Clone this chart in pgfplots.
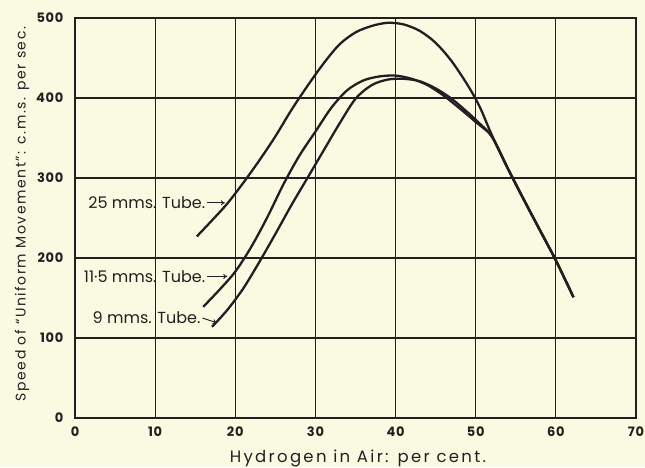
\documentclass[border=0pt]{standalone}
\usepackage{fontspec}
\setmainfont{Poppins}
\newfontfamily\spaced[LetterSpace=14]{Poppins}
\newfontfamily\yspaced[LetterSpace=11]{Poppins}
\newfontfamily\tickfont[LetterSpace=6]{Poppins}
\usepackage{pgfplots}
\pgfplotsset{compat=1.18}
\usetikzlibrary{arrows.meta}
\definecolor{paper}{RGB}{250,250,226}
\definecolor{ink}{RGB}{36,30,34}

\begin{document}
\begin{tikzpicture}
\fill[paper] (-75pt,-49pt) rectangle (570pt,418pt);
\begin{axis}[
  at={(0,0)}, anchor=south west,
  width=561pt, height=400pt, scale only axis,
  xmin=0, xmax=70, ymin=0, ymax=500,
  xtick={0,10,...,70}, ytick={0,100,...,500},
  major tick length=0pt,
  grid=major,
  grid style={ink, line width=1.1pt},
  axis line style={ink, line width=1.8pt},
  /pgf/number format/assume math mode=true,
  ticklabel style={font=\tickfont\fontsize{13}{13}\selectfont\bfseries, text=ink},
  xticklabel style={anchor=center, yshift=-14pt},
  yticklabel style={xshift=-8pt},
  clip=false,
]
% 25 mm tube
\addplot[ink, line width=2.3pt, smooth] coordinates {
  (15.2,227) (17,246) (19,268) (21,294) (23,322) (25,352) (27,385)
  (29,415) (31,443) (33,467) (35,482) (37,490) (39,494) (41,492)
  (43,484) (45,469) (47,446) (49,416) (50.5,389) (52,354) (54,312)
  (56,273) (58,235) (60,197) (62.2,151)
};
% 11.5 mm tube
\addplot[ink, line width=2.3pt, smooth] coordinates {
  (16,139) (18,160) (20,183) (22,214) (24,251) (26,292) (28,328)
  (30,358) (32,388) (34,410) (36,422) (38,427) (40,428) (42,424)
  (44,416) (46,403) (48,387) (50,370) (52,352) (54,312)
  (56,273) (58,235) (60,197) (62.2,151)
};
% 9 mm tube
\addplot[ink, line width=2.3pt, smooth] coordinates {
  (17.1,114) (19,135) (21,162) (23,195) (25,230) (27,266) (29,300)
  (31,334) (33,368) (35,399) (37,416) (39,423) (41,424) (43,421)
  (45,412) (47,399) (49,382) (50.5,368) (52,352) (54,312)
  (56,273) (58,235) (60,197) (62.2,151)
};
\node[anchor=east, inner sep=1pt, text=ink, font=\fontsize{16}{16}\selectfont] at (axis cs:16.4,269) {25 mms. Tube.};
\draw[ink, line width=0.9pt, -{To[length=4pt,width=5pt]}] (axis cs:16.5,269) -- (axis cs:18.7,269);
\node[anchor=east, inner sep=1pt, text=ink, font=\fontsize{16}{16}\selectfont] at (axis cs:16.4,177) {11·5 mms. Tube.};
\draw[ink, line width=0.9pt, -{To[length=4pt,width=5pt]}] (axis cs:16.5,177) -- (axis cs:19.0,177);
\node[anchor=east, inner sep=1pt, text=ink, font=\fontsize{16}{16}\selectfont] at (axis cs:15.8,125) {9 mms. Tube.};
\draw[ink, line width=0.9pt, -{To[length=4pt,width=5pt]}] (axis cs:15.9,125) -- (axis cs:17.7,119);
\end{axis}
\node[rotate=90, text=ink, font=\yspaced\fontsize{14}{14}\selectfont] at (-53pt,204pt) {Speed of “Uniform Movement”: c.m.s. per sec.};
\node[anchor=base, text=ink, font=\spaced\fontsize{16.5}{16.5}\selectfont] at (283pt,-44pt) {Hydrogen in Air: per cent.};
\pgfresetboundingbox
\path (-75pt,-49pt) rectangle (570pt,418pt);
\end{tikzpicture}
\end{document}
